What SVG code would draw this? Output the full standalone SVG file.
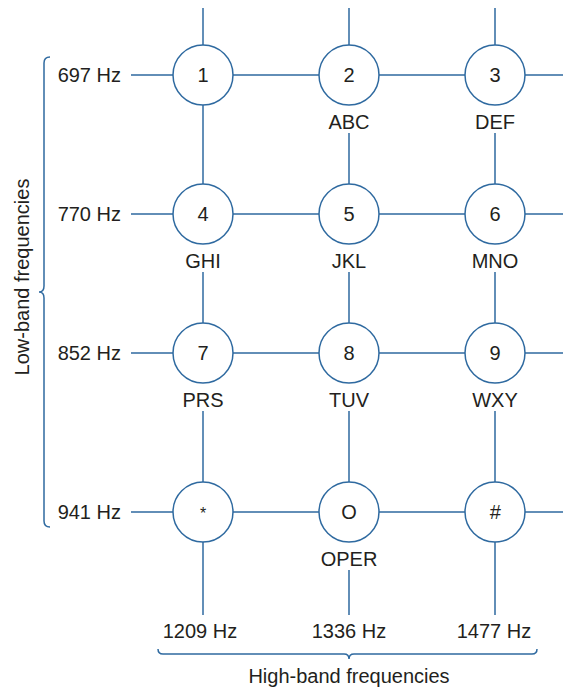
<svg xmlns="http://www.w3.org/2000/svg" width="563" height="687" viewBox="0 0 563 687">
<style>
.ln{stroke:#2f6aa0;stroke-width:1.5;fill:none}
.nd{stroke:#2f6aa0;stroke-width:1.5;fill:#fff}
.t{font-family:"Liberation Sans",Arial,sans-serif;font-size:20px;fill:#231f20}
.c{text-anchor:middle}
.e{text-anchor:end}
</style>
<rect width="563" height="687" fill="#fff"/>
<g id="connectors" class="ln">
<path d="M131,75H563M131,214H563M131,353H563M131,512H563"/>
<path d="M203,8V615"/>
<path d="M349,8V105M349,133V244M349,272V383M349,411V542M349,570V615"/>
<path d="M495,8V105M495,133V244M495,272V383M495,411V615"/>
<path d="M203,244V272M203,383V411" stroke="#fff" stroke-width="4"/>
</g>
<g id="braces" class="ln">
<path d="M50,57Q44,57 44,63L44,286Q44,292 39,292Q44,292 44,298L44,521Q44,527 50,527"/>
<path d="M158,649Q158,654 163,654L344,654Q349,654 349,659Q349,654 354,654L532,654Q537,654 537,649"/>
</g>
<g id="row-labels" class="t e">
<text x="121" y="82">697 Hz</text>
<text x="121" y="221">770 Hz</text>
<text x="121" y="360">852 Hz</text>
<text x="121" y="519">941 Hz</text>
</g>
<g id="col-labels" class="t c">
<text x="200" y="638">1209 Hz</text>
<text x="349" y="638">1336 Hz</text>
<text x="494" y="638">1477 Hz</text>
<text x="349" y="683">High-band frequencies</text>
<text transform="translate(29,277) rotate(-90)">Low-band frequencies</text>
</g>
<g id="key-1"><circle class="nd" cx="203" cy="75" r="30"/><text class="t c" x="203" y="82">1</text></g>
<g id="key-2"><circle class="nd" cx="349" cy="75" r="30"/><text class="t c" x="349" y="82">2</text><text class="t c" x="349" y="129">ABC</text></g>
<g id="key-3"><circle class="nd" cx="495" cy="75" r="30"/><text class="t c" x="495" y="82">3</text><text class="t c" x="495" y="129">DEF</text></g>
<g id="key-4"><circle class="nd" cx="203" cy="214" r="30"/><text class="t c" x="203" y="221">4</text><text class="t c" x="203" y="268">GHI</text></g>
<g id="key-5"><circle class="nd" cx="349" cy="214" r="30"/><text class="t c" x="349" y="221">5</text><text class="t c" x="349" y="268">JKL</text></g>
<g id="key-6"><circle class="nd" cx="495" cy="214" r="30"/><text class="t c" x="495" y="221">6</text><text class="t c" x="495" y="268">MNO</text></g>
<g id="key-7"><circle class="nd" cx="203" cy="353" r="30"/><text class="t c" x="203" y="360">7</text><text class="t c" x="203" y="407">PRS</text></g>
<g id="key-8"><circle class="nd" cx="349" cy="353" r="30"/><text class="t c" x="349" y="360">8</text><text class="t c" x="349" y="407">TUV</text></g>
<g id="key-9"><circle class="nd" cx="495" cy="353" r="30"/><text class="t c" x="495" y="360">9</text><text class="t c" x="495" y="407">WXY</text></g>
<g id="key-star"><circle class="nd" cx="203" cy="512" r="30"/><text class="t c" x="203" y="519" style="font-size:16px">*</text></g>
<g id="key-0"><circle class="nd" cx="349" cy="512" r="30"/><text class="t c" x="349" y="519">O</text><text class="t c" x="349" y="566">OPER</text></g>
<g id="key-hash"><circle class="nd" cx="495" cy="512" r="30"/><text class="t c" x="495" y="519" style="font-style:italic">#</text></g>
</svg>
